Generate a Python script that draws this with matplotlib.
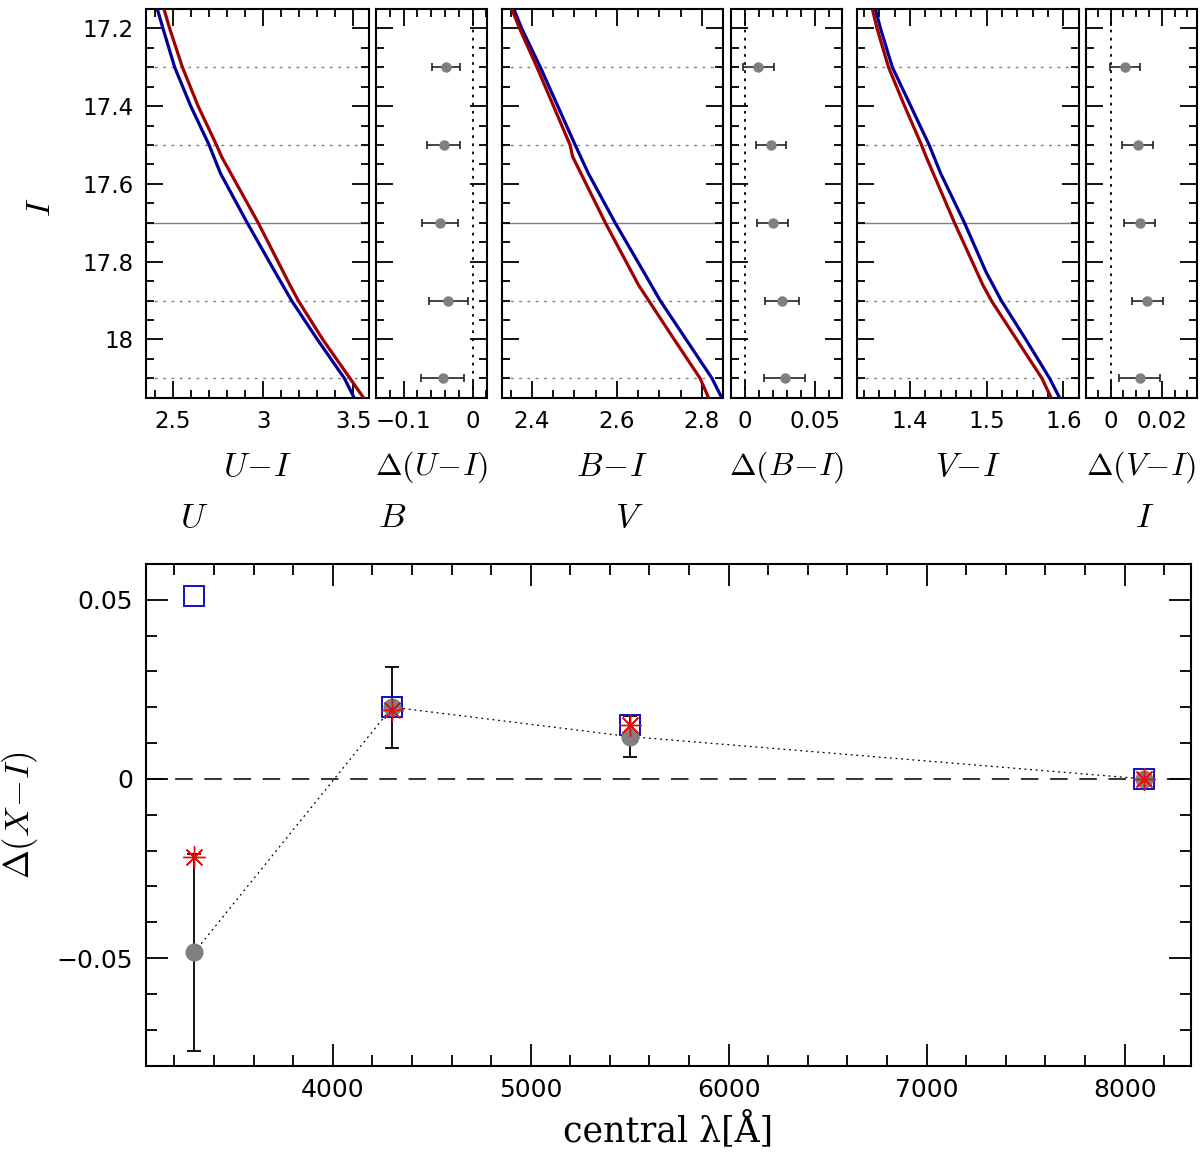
import matplotlib
matplotlib.use("Agg")
import matplotlib.pyplot as plt
from matplotlib.ticker import MultipleLocator, FuncFormatter
import numpy as np

plt.rcParams['mathtext.fontset'] = 'cm'
plt.rcParams['font.family'] = ['DejaVu Sans']

# magnitude levels where the colour offsets were measured
I_levels = [17.3, 17.5, 17.7, 17.9, 18.1]
dotted_levels = [17.3, 17.5, 17.9, 18.1]
solid_level = 17.7

# offsets and errors per colour
d_ui = [-0.0386, -0.0415, -0.0468, -0.0352, -0.0435]
e_ui = [0.020, 0.024, 0.026, 0.028, 0.031]
d_bi = [0.0095, 0.0187, 0.0199, 0.0268, 0.0285]
e_bi = [0.011, 0.011, 0.011, 0.0123, 0.0147]
d_vi = [0.0055, 0.0105, 0.0114, 0.0144, 0.0114]
e_vi = [0.0059, 0.006, 0.006, 0.006, 0.008]

# isochrone curves (red / blue) in each colour
I_red = [17.151, 17.2, 17.3, 17.4, 17.5, 17.53, 17.7, 17.86, 17.9, 18.0, 18.1, 18.15]
ui_red = [2.450, 2.481, 2.552, 2.639, 2.741, 2.769, 2.972, 3.148, 3.194, 3.330, 3.481, 3.556]
bi_red = [2.353, 2.371, 2.412, 2.451, 2.490, 2.496, 2.573, 2.651, 2.675, 2.735, 2.796, 2.816]
vi_red = [1.351, 1.357, 1.372, 1.393, 1.415, 1.421, 1.458, 1.495, 1.506, 1.539, 1.572, 1.584]

I_blue = [17.151, 17.2, 17.3, 17.4, 17.5, 17.573, 17.7, 17.826, 17.9, 18.0, 18.1, 18.15]
ui_blue = [2.413, 2.444, 2.509, 2.598, 2.700, 2.763, 2.911, 3.065, 3.157, 3.300, 3.450, 3.504]
bi_blue = [2.358, 2.376, 2.420, 2.461, 2.502, 2.533, 2.596, 2.663, 2.702, 2.763, 2.824, 2.847]
vi_blue = [1.355, 1.3615, 1.377, 1.401, 1.425, 1.440, 1.471, 1.499, 1.519, 1.551, 1.582, 1.595]

# bottom panel
lam = [3300, 4300, 5500, 8100]
band_names = ['U', 'B', 'V', 'I']
d_obs = [-0.0484, 0.020, 0.0118, 0.0]
e_obs = [0.0274, 0.0113, 0.0058, 0.0]
d_star = [-0.0219, 0.0191, 0.0151, 0.0]
d_square = [0.051, 0.020, 0.015, 0.0]

RED = '#a00000'
BLUE = '#000099'
GRAY = '#808080'


def fmt(v, pos):
    s = '%g' % round(v, 6)
    return s.replace('-', '\u2212')


def style_axis(ax, xmaj, xmin, ymaj, ymin, size):
    ax.xaxis.set_major_locator(MultipleLocator(xmaj))
    ax.xaxis.set_minor_locator(MultipleLocator(xmin))
    ax.yaxis.set_major_locator(MultipleLocator(ymaj))
    ax.yaxis.set_minor_locator(MultipleLocator(ymin))
    ax.xaxis.set_major_formatter(FuncFormatter(fmt))
    ax.yaxis.set_major_formatter(FuncFormatter(fmt))
    ax.tick_params(which='both', direction='in', top=True, right=True, width=1.3)
    ax.tick_params(which='major', length=12, labelsize=size, pad=9)
    ax.tick_params(which='minor', length=6)
    for sp in ax.spines.values():
        sp.set_linewidth(1.5)


fig = plt.figure(figsize=(12, 11.54), dpi=100)

W, H = 1200.0, 1154.0
top_px, bot_px = 9.3, 397.7
lefts = [146, 376, 501.7, 730.7, 856.7, 1085.7]
widths = [222.7, 111, 221.3, 111, 222, 111]
axes = []
for l, w in zip(lefts, widths):
    axes.append(fig.add_axes([l / W, 1 - bot_px / H, w / W, (bot_px - top_px) / H]))

cmd_panels = [
    (axes[0], ui_red, ui_blue, (2.35, 3.585), 0.5, 0.1, r'$U\!-\!I$'),
    (axes[2], bi_red, bi_blue, (2.329, 2.85), 0.2, 0.05, r'$B\!-\!I$'),
    (axes[4], vi_red, vi_blue, (1.3305, 1.62), 0.1, 0.02, r'$V\!-\!I$'),
]
for ax, xr, xb, xlim, xmaj, xmin, lab in cmd_panels:
    for lev in dotted_levels:
        ax.axhline(lev, color=GRAY, lw=1.0, ls=(0, (2, 4)), zorder=1)
    ax.axhline(solid_level, color=GRAY, lw=1.0, zorder=1)
    ax.plot(xb, I_blue, color=BLUE, lw=2.3, zorder=3)
    ax.plot(xr, I_red, color=RED, lw=2.3, zorder=3)
    ax.set_xlim(*xlim)
    ax.set_ylim(18.15, 17.151)
    style_axis(ax, xmaj, xmin, 0.2, 0.05, 16.5)
    ax.set_xlabel(lab, fontsize=24, labelpad=12)

diff_panels = [
    (axes[1], d_ui, e_ui, (-0.14, 0.021), 0.1, 0.02, r'$\Delta(U\!-\!I)$'),
    (axes[3], d_bi, e_bi, (-0.0102, 0.0694), 0.05, 0.01, r'$\Delta(B\!-\!I)$'),
    (axes[5], d_vi, e_vi, (-0.0098, 0.0337), 0.02, 0.005, r'$\Delta(V\!-\!I)$'),
]
for ax, d, e, xlim, xmaj, xmin, lab in diff_panels:
    ax.axvline(0, color='black', lw=1.3, ls=(0, (1.5, 3)), zorder=1)
    ax.errorbar(d, I_levels, xerr=e, fmt='o', color=GRAY, ms=6.5,
                ecolor='#222222', elinewidth=1.2, capsize=3, capthick=1.2, zorder=3)
    ax.set_xlim(*xlim)
    ax.set_ylim(18.15, 17.151)
    style_axis(ax, xmaj, xmin, 0.2, 0.05, 16.5)
    ax.set_xlabel(lab, fontsize=23, labelpad=12)

for ax in axes[1:]:
    ax.tick_params(labelleft=False)
axes[0].set_ylabel(r'$I$', fontsize=25)
axes[0].yaxis.set_label_coords(-0.40, 0.49)

# bottom panel
axb = fig.add_axes([145.7 / W, 1 - 1065.7 / H, 1045.6 / W, (1065.7 - 563.8) / H])
axb.axhline(0, color='#333333', lw=1.4, ls=(0, (9, 6)), zorder=1)
axb.plot(lam, d_obs, color='black', lw=0.9, ls=(0, (1.5, 3)), zorder=2)
mask = np.array(e_obs) > 0
axb.errorbar(np.array(lam)[mask], np.array(d_obs)[mask], yerr=np.array(e_obs)[mask],
             fmt='none', ecolor='black', elinewidth=1.3, capsize=5, capthick=1.3, zorder=3)
axb.plot(lam, d_square, ls='none', marker='s', ms=14, mfc='none', mec='#1010c0',
         mew=1.4, zorder=4)
axb.plot(lam, d_obs, ls='none', marker='o', ms=12, color=GRAY, zorder=5)
axb.plot(lam, d_star, ls='none', marker=(8, 2, 0), ms=16, mec='#e01010', mew=1.0, zorder=6)
axb.set_xlim(3055, 8337)
axb.set_ylim(-0.08, 0.06)
style_axis(axb, 1000, 200, 0.05, 0.01, 18)
axb.tick_params(which='major', length=16)
axb.tick_params(which='minor', length=8)
axb.set_xlabel(u'central \u03bb[\u00c5]', fontsize=25, family='DejaVu Serif', labelpad=6)
axb.set_ylabel(r'$\Delta(X\!-\!I)$', fontsize=25, labelpad=12)

for x, name in zip(lam, band_names):
    axb.text(x, 1.093, r'$%s$' % name, transform=axb.get_xaxis_transform(),
             ha='center', va='center', fontsize=25)

fig.savefig('out.png', dpi=100)
